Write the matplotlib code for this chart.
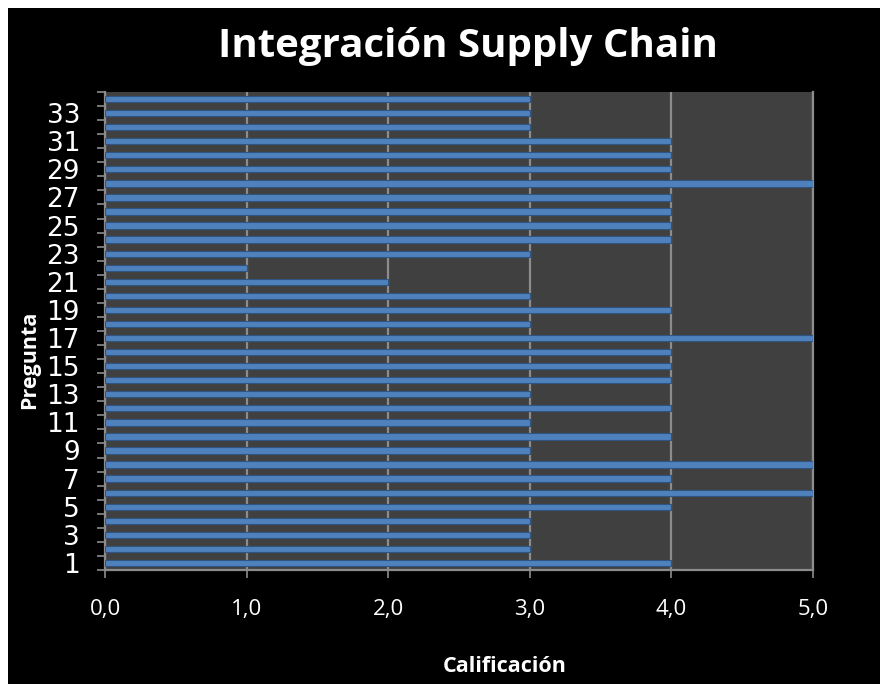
import numpy as np
import matplotlib
matplotlib.use('Agg')
from matplotlib import pyplot as plt
from matplotlib.patches import Rectangle

# puntaje por pregunta (1..34)
preguntas = list(range(1, 35))
calificacion = [4, 3, 3, 3, 4, 5, 4, 5, 3, 4,
                3, 4, 3, 4, 4, 4, 5, 3, 4, 3,
                2, 1, 3, 4, 4, 4, 4, 5, 4, 4,
                4, 3, 3, 3]
x_ticks = [0, 1, 2, 3, 4, 5]
x_labels = ['0,0', '1,0', '2,0', '3,0', '4,0', '5,0']
y_ticks = list(range(1, 34, 2))

W, H = 880, 684
fig = plt.figure(figsize=(W/100, H/100), dpi=100, facecolor='white')
fig.patches.append(Rectangle((8/W, 0), 1, 1 - 8/H, transform=fig.transFigure,
                             facecolor='black', edgecolor='none', zorder=-5))

ax = fig.add_axes([105/W, 1 - 570/H, (813-105)/W, (570-92)/H])
ax.set_facecolor('#404040')

ax.barh(preguntas, calificacion, height=0.45, color='#4f81bd',
        edgecolor='#2f5683', linewidth=0.8, zorder=3)

ax.set_xlim(0, 5)
ax.set_ylim(0.5, 34.5)
ax.set_xticks(x_ticks)
ax.set_xticklabels(x_labels, color='white', fontsize=16, family='Open Sans')
ax.grid(axis='x', color='#8c8c8c', linewidth=1.6, zorder=1)
ax.tick_params(axis='x', colors='#8c8c8c', length=6, width=1.2, pad=15, labelcolor='white')

ax.set_yticks(y_ticks)
ax.set_yticklabels([str(v) for v in y_ticks], color='white', fontsize=19,
                   family=['Liberation Sans Narrow', 'DejaVu Sans'])
ax.tick_params(axis='y', length=0, pad=18)
ax.set_yticks(np.arange(0.5, 35, 1), minor=True)
ax.tick_params(axis='y', which='minor', colors='#8c8c8c', length=6, width=1.2)

for s in ['top']:
    ax.spines[s].set_visible(False)
for s in ['left', 'bottom', 'right']:
    ax.spines[s].set_color('#8c8c8c')
    ax.spines[s].set_linewidth(1.6)

fig.text(468/W, 1 - 47/H, 'Integración Supply Chain', color='white', fontsize=29,
         fontweight='bold', family='Open Sans', ha='center', va='center')
fig.text(30/W, 1 - 360/H, 'Pregunta', color='white', fontsize=15.5, fontweight='bold',
         family='Open Sans', rotation=90, ha='center', va='center')
fig.text(505/W, 1 - 667/H, 'Calificación', color='white', fontsize=15.5, fontweight='bold',
         family='Open Sans', ha='center', va='center')

fig.savefig('out.png', dpi=100, facecolor='white')
